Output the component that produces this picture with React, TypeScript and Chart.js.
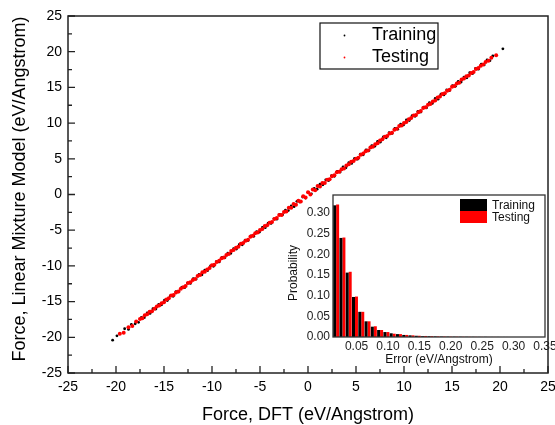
import React, { useEffect, useRef } from 'react';
import { Chart, registerables } from 'chart.js';

Chart.register(...registerables);

// ---- text ----
const seriesLabels = ['Training', 'Testing'];
const xTitle = 'Force, DFT (eV/Angstrom)';
const yTitle = 'Force, Linear Mixture Model (eV/Angstrom)';
const insetXTitle = 'Error (eV/Angstrom)';
const insetYTitle = 'Probability';

// ---- parity data: [DFT force, model force] in eV/Angstrom ----
const trainingPoints: [number, number][] = [
  [-20.35, -20.4], [-19.9, -19.8], [-19.1, -18.8], [-18.7, -18.9], [-18.4, -18.2], [-18.0, -18.1],
  [-17.65, -17.9], [-17.35, -17.2], [-17.05, -17.25], [-16.75, -16.6], [-16.45, -16.65], [-16.15, -16.0],
  [-15.85, -16.05], [-15.55, -15.4], [-15.25, -15.45], [-14.95, -14.8], [-14.65, -14.85], [-14.35, -14.2],
  [-14.05, -14.25], [-13.75, -13.6], [-13.45, -13.65], [-13.15, -13.0], [-12.85, -13.05], [-12.55, -12.4],
  [-12.25, -12.45], [-11.95, -11.8], [-11.65, -11.85], [-11.35, -11.2], [-11.05, -11.25], [-10.75, -10.6],
  [-10.45, -10.65], [-10.15, -10.0], [-9.85, -10.05], [-9.55, -9.4], [-9.25, -9.45], [-8.95, -8.8],
  [-8.65, -8.85], [-8.35, -8.2], [-8.05, -8.25], [-7.75, -7.6], [-7.45, -7.65], [-7.15, -7.0],
  [-6.85, -7.05], [-6.55, -6.4], [-6.25, -6.45], [-5.95, -5.8], [-5.65, -5.85], [-5.35, -5.2],
  [-5.05, -5.25], [-4.75, -4.6], [-4.45, -4.65], [-4.15, -4.0], [-3.85, -4.05], [-3.55, -3.4],
  [-3.25, -3.45], [-2.95, -2.8], [-2.65, -2.85], [-2.35, -2.2], [-2.05, -2.25], [-1.75, -1.6],
  [-1.45, -1.7], [-1.15, -0.95], [-0.85, -1.05], [-0.55, -0.35], [-0.25, -0.5], [0.05, 0.3],
  [0.35, 0.1], [0.65, 0.85], [0.95, 0.75], [1.25, 1.45], [1.55, 1.35], [1.85, 2.05],
  [2.15, 1.95], [2.45, 2.65], [2.75, 2.55], [3.05, 3.25], [3.35, 3.15], [3.65, 3.85],
  [3.95, 3.75], [4.25, 4.45], [4.55, 4.35], [4.85, 5.05], [5.15, 4.95], [5.45, 5.65],
  [5.75, 5.55], [6.05, 6.25], [6.35, 6.15], [6.65, 6.85], [6.95, 6.75], [7.25, 7.45],
  [7.55, 7.35], [7.85, 8.05], [8.15, 7.95], [8.45, 8.65], [8.75, 8.55], [9.05, 9.25],
  [9.35, 9.15], [9.65, 9.85], [9.95, 9.75], [10.25, 10.45], [10.55, 10.35], [10.85, 11.05],
  [11.15, 10.95], [11.45, 11.65], [11.75, 11.55], [12.05, 12.25], [12.35, 12.15], [12.65, 12.85],
  [12.95, 12.75], [13.25, 13.45], [13.55, 13.35], [13.85, 14.05], [14.15, 13.95], [14.45, 14.65],
  [14.75, 14.55], [15.05, 15.25], [15.35, 15.15], [15.65, 15.85], [15.95, 15.75], [16.25, 16.45],
  [16.55, 16.35], [16.85, 17.05], [17.15, 16.95], [17.45, 17.65], [17.75, 17.55], [18.05, 18.25],
  [18.35, 18.15], [18.65, 18.85], [18.95, 18.75], [19.25, 19.4], [20.3, 20.4],
];

const testingPoints: [number, number][] = [
  [-19.6, -19.5], [-19.2, -19.35], [-18.7, -18.6], [-18.3, -18.4], [-17.9, -17.8],
  [-17.5, -17.45], [-17.25, -17.33], [-17.0, -16.9], [-16.75, -16.77], [-16.5, -16.43], [-16.25, -16.35],
  [-16.0, -16.0], [-15.75, -15.67], [-15.5, -15.55], [-15.25, -15.22], [-15.0, -15.09], [-14.75, -14.69],
  [-14.5, -14.53], [-14.25, -14.15], [-14.0, -14.07], [-13.75, -13.73], [-13.5, -13.6], [-13.25, -13.2],
  [-13.0, -13.0], [-12.75, -12.81], [-12.5, -12.41], [-12.25, -12.29], [-12.0, -11.96], [-11.75, -11.84],
  [-11.5, -11.43], [-11.25, -11.27], [-11.0, -10.9], [-10.75, -10.83], [-10.5, -10.49], [-10.25, -10.3],
  [-10.0, -9.92], [-9.75, -9.85], [-9.5, -9.46], [-9.25, -9.28], [-9.0, -8.94], [-8.75, -8.82],
  [-8.5, -8.48], [-8.25, -8.34], [-8.0, -7.91], [-7.75, -7.76], [-7.5, -7.45], [-7.25, -7.33],
  [-7.0, -6.9], [-6.75, -6.79], [-6.5, -6.47], [-6.25, -6.35], [-6.0, -5.93], [-5.75, -5.77],
  [-5.5, -5.42], [-5.25, -5.31], [-5.0, -4.98], [-4.75, -4.84], [-4.5, -4.4], [-4.25, -4.3],
  [-4.0, -3.95], [-3.75, -3.85], [-3.5, -3.42], [-3.25, -3.28], [-3.0, -2.88], [-2.75, -2.87],
  [-2.5, -2.44], [-2.25, -2.39], [-2.0, -1.85], [-1.75, -1.85], [-1.5, -1.32], [-1.25, -1.45],
  [-1.0, -0.88], [-0.75, -0.97], [-0.5, -0.25], [-0.25, -0.43], [0.0, 0.3], [0.25, 0.0],
  [0.5, 0.7], [0.75, 0.6], [1.0, 1.18], [1.25, 1.13], [1.5, 1.6], [1.75, 1.61],
  [2.0, 2.08], [2.25, 2.15], [2.5, 2.57], [2.75, 2.69], [3.0, 3.1], [3.25, 3.17],
  [3.5, 3.53], [3.75, 3.65], [4.0, 4.06], [4.25, 4.22], [4.5, 4.59], [4.75, 4.68],
  [5.0, 5.02], [5.25, 5.16], [5.5, 5.58], [5.75, 5.73], [6.0, 6.05], [6.25, 6.15],
  [6.5, 6.6], [6.75, 6.7], [7.0, 7.03], [7.25, 7.17], [7.5, 7.57], [7.75, 7.74],
  [8.0, 8.09], [8.25, 8.19], [8.5, 8.54], [8.75, 8.65], [9.0, 9.06], [9.25, 9.22],
  [9.5, 9.6], [9.75, 9.68], [10.0, 10.02], [10.25, 10.16], [10.5, 10.55], [10.75, 10.71],
  [11.0, 11.08], [11.25, 11.15], [11.5, 11.53], [11.75, 11.7], [12.0, 12.1], [12.25, 12.23],
  [12.5, 12.56], [12.75, 12.67], [13.0, 13.04], [13.25, 13.15], [13.5, 13.57], [13.75, 13.72],
  [14.0, 14.09], [14.25, 14.19], [14.5, 14.52], [14.75, 14.66], [15.0, 15.08], [15.25, 15.21],
  [15.5, 15.55], [15.75, 15.65], [16.0, 16.1], [16.25, 16.23], [16.5, 16.56], [16.75, 16.68],
  [17.0, 17.03], [17.25, 17.17], [17.5, 17.57], [17.75, 17.7], [18.0, 18.04], [18.25, 18.19],
  [18.5, 18.55], [18.8, 18.75], [19.1, 19.15], [19.6, 19.5],
];

// ---- error histogram (bin centres, eV/Angstrom) ----
const errorBins = [
  0.0175, 0.0275, 0.0375, 0.0475, 0.0575, 0.0675, 0.0775, 0.0875, 0.0975, 0.1075,
  0.1175, 0.1275, 0.1375, 0.1475, 0.1575, 0.1675, 0.1775, 0.1875, 0.1975, 0.2075,
  0.2175, 0.2275, 0.2375, 0.2475, 0.2575, 0.2675, 0.2775, 0.2875,
];
const trainingProb = [
  0.319, 0.240, 0.156, 0.097, 0.061, 0.038, 0.025, 0.017, 0.012, 0.009,
  0.007, 0.005, 0.004, 0.003, 0.002, 0.0018, 0.0014, 0.0011, 0.0009, 0.0007,
  0.0006, 0.0005, 0.0004, 0.0003, 0.0003, 0.0002, 0.0002, 0.0001,
];
const testingProb = [
  0.321, 0.241, 0.158, 0.098, 0.061, 0.038, 0.026, 0.017, 0.012, 0.008,
  0.007, 0.005, 0.004, 0.003, 0.0025, 0.002, 0.0015, 0.0012, 0.0009, 0.0008,
  0.0006, 0.0005, 0.0004, 0.0003, 0.0002, 0.0002, 0.0001, 0.0001,
];

const FONT = '"Liberation Sans", Arial, Helvetica, sans-serif';
const AXIS_COLOR = '#222';
const RED = '#ff0000';

Chart.defaults.font.family = FONT;

// frame, inward ticks, titles and legend of the parity plot
const parityDecor = {
  id: 'parityDecor',
  afterDraw(chart: any) {
    const { ctx, chartArea: a, scales } = chart;
    const xs = scales.x;
    const ys = scales.y;
    ctx.save();
    ctx.strokeStyle = AXIS_COLOR;
    ctx.lineWidth = 1.5;
    ctx.strokeRect(a.left, a.top, a.right - a.left, a.bottom - a.top);

    ctx.lineWidth = 1.3;
    const xv = xs.ticks.map((t: any) => t.value);
    const yv = ys.ticks.map((t: any) => t.value);
    ctx.beginPath();
    xv.forEach((v: number, i: number) => {
      const px = xs.getPixelForValue(v);
      ctx.moveTo(px, a.bottom);
      ctx.lineTo(px, a.bottom - 7);
      if (i < xv.length - 1) {
        const mx = xs.getPixelForValue((v + xv[i + 1]) / 2);
        ctx.moveTo(mx, a.bottom);
        ctx.lineTo(mx, a.bottom - 4);
      }
    });
    yv.forEach((v: number, i: number) => {
      const py = ys.getPixelForValue(v);
      ctx.moveTo(a.left, py);
      ctx.lineTo(a.left + 7, py);
      if (i < yv.length - 1) {
        const my = ys.getPixelForValue((v + yv[i + 1]) / 2);
        ctx.moveTo(a.left, my);
        ctx.lineTo(a.left + 4, my);
      }
    });
    ctx.stroke();

    // axis titles
    ctx.fillStyle = '#000';
    ctx.font = `18px ${FONT}`;
    ctx.textAlign = 'center';
    ctx.textBaseline = 'middle';
    ctx.fillText(xTitle, (a.left + a.right) / 2, 415);
    ctx.save();
    ctx.translate(20, 189);
    ctx.rotate(-Math.PI / 2);
    ctx.fillText(yTitle, 0, 0);
    ctx.restore();

    // legend
    const lx = 320, ly = 23, lw = 118, lh = 46;
    ctx.fillStyle = '#fff';
    ctx.fillRect(lx, ly, lw, lh);
    ctx.strokeStyle = '#111';
    ctx.lineWidth = 1.2;
    ctx.strokeRect(lx, ly, lw, lh);
    ctx.font = `18px ${FONT}`;
    ctx.textAlign = 'left';
    chart.data.datasets.forEach((ds: any, i: number) => {
      const cy = ly + 12.5 + i * 22;
      ctx.fillStyle = ds.backgroundColor;
      ctx.beginPath();
      ctx.arc(344.5, cy, 0.9, 0, Math.PI * 2);
      ctx.fill();
      ctx.fillStyle = '#000';
      ctx.fillText(ds.label, 372, cy);
    });
    ctx.restore();
  },
};

// white panel, frame, titles and legend of the error histogram
const histogramDecor = {
  id: 'histogramDecor',
  beforeDraw(chart: any) {
    const { ctx, chartArea: a } = chart;
    ctx.save();
    ctx.fillStyle = '#fff';
    ctx.fillRect(a.left, a.top, a.right - a.left, a.bottom - a.top);
    ctx.restore();
  },
  afterDraw(chart: any) {
    const { ctx, chartArea: a } = chart;
    ctx.save();
    ctx.strokeStyle = '#333';
    ctx.lineWidth = 1.3;
    ctx.strokeRect(a.left, a.top, a.right - a.left, a.bottom - a.top);

    ctx.fillStyle = '#111';
    ctx.font = `12px ${FONT}`;
    ctx.textAlign = 'center';
    ctx.textBaseline = 'middle';
    ctx.fillText(insetXTitle, (a.left + a.right) / 2, 175);
    ctx.save();
    ctx.translate(14, 88);
    ctx.rotate(-Math.PI / 2);
    ctx.fillText(insetYTitle, 0, 0);
    ctx.restore();

    // legend
    ctx.textAlign = 'left';
    chart.data.datasets.forEach((ds: any, i: number) => {
      const top = 14 + i * 12;
      ctx.fillStyle = ds.backgroundColor;
      ctx.fillRect(180, top, 27, 12);
      ctx.fillStyle = '#111';
      ctx.fillText(ds.label, 212, top + 6.5);
    });
    ctx.restore();
  },
};

const zeroPad = (s: any) => {
  s.paddingLeft = 0;
  s.paddingRight = 0;
  s.paddingTop = 0;
  s.paddingBottom = 0;
};

export default function App() {
  const mainRef = useRef<HTMLCanvasElement>(null);
  const insetRef = useRef<HTMLCanvasElement>(null);

  useEffect(() => {
    const main = new Chart(mainRef.current as HTMLCanvasElement, {
      type: 'scatter',
      data: {
        datasets: [
          {
            label: seriesLabels[0],
            data: trainingPoints.map(([x, y]) => ({ x, y })),
            backgroundColor: '#000',
            borderWidth: 0,
            pointRadius: 1.4,
            order: 1,
          },
          {
            label: seriesLabels[1],
            data: testingPoints.map(([x, y]) => ({ x, y })),
            backgroundColor: RED,
            borderWidth: 0,
            pointRadius: 2.0,
            order: 0,
          },
        ],
      },
      options: {
        responsive: false,
        animation: false,
        devicePixelRatio: 1,
        layout: { padding: { left: 0, top: 16, right: 7, bottom: 0 } },
        plugins: { legend: { display: false }, tooltip: { enabled: false } },
        scales: {
          x: {
            type: 'linear',
            min: -25,
            max: 25,
            grid: { display: false, drawTicks: false },
            border: { display: false },
            ticks: { stepSize: 5, color: '#000', font: { size: 14 }, padding: 6, maxRotation: 0 },
            afterFit: (s: any) => { s.height = 52; zeroPad(s); },
          },
          y: {
            type: 'linear',
            min: -25,
            max: 25,
            grid: { display: false, drawTicks: false },
            border: { display: false },
            ticks: { stepSize: 5, color: '#000', font: { size: 14 }, padding: 6 },
            afterFit: (s: any) => { s.width = 68; zeroPad(s); },
          },
        },
      },
      plugins: [parityDecor],
    });

    const inset = new Chart(insetRef.current as HTMLCanvasElement, {
      type: 'bar',
      data: {
        datasets: [
          {
            label: seriesLabels[0],
            data: errorBins.map((x, i) => ({ x, y: trainingProb[i] })),
            backgroundColor: '#000',
            borderWidth: 0,
            categoryPercentage: 0.95,
            barPercentage: 1,
          },
          {
            label: seriesLabels[1],
            data: errorBins.map((x, i) => ({ x, y: testingProb[i] })),
            backgroundColor: RED,
            borderWidth: 0,
            categoryPercentage: 0.95,
            barPercentage: 1,
          },
        ],
      },
      options: {
        responsive: false,
        animation: false,
        devicePixelRatio: 1,
        layout: { padding: { left: 0, top: 10, right: 10, bottom: 0 } },
        plugins: { legend: { display: false }, tooltip: { enabled: false } },
        scales: {
          x: {
            type: 'linear',
            min: 0.0125,
            max: 0.35,
            offset: false,
            grid: { display: false, drawTicks: false },
            border: { display: false },
            ticks: {
              stepSize: 0.05,
              includeBounds: false,
              color: '#222',
              font: { size: 12 },
              padding: 2,
              maxRotation: 0,
              autoSkip: false,
              callback: (v: any) => Number(v).toFixed(2),
            },
            afterFit: (s: any) => { s.height = 38; zeroPad(s); },
          },
          y: {
            type: 'linear',
            min: 0,
            max: 0.344,
            grid: { display: false, drawTicks: false },
            border: { display: false },
            ticks: {
              stepSize: 0.05,
              includeBounds: false,
              color: '#222',
              font: { size: 12 },
              padding: 3,
              callback: (v: any) => Number(v).toFixed(2),
            },
            afterFit: (s: any) => { s.width = 53; zeroPad(s); },
          },
        },
      },
      plugins: [histogramDecor],
    });

    return () => {
      main.destroy();
      inset.destroy();
    };
  }, []);

  return (
    <div style={{ position: 'absolute', left: 0, top: 0, width: 555, height: 425, background: '#fff', overflow: 'hidden' }}>
      <canvas ref={mainRef} width={555} height={425} style={{ position: 'absolute', left: 0, top: 0 }} />
      <canvas ref={insetRef} width={275} height={190} style={{ position: 'absolute', left: 280, top: 185 }} />
    </div>
  );
}
